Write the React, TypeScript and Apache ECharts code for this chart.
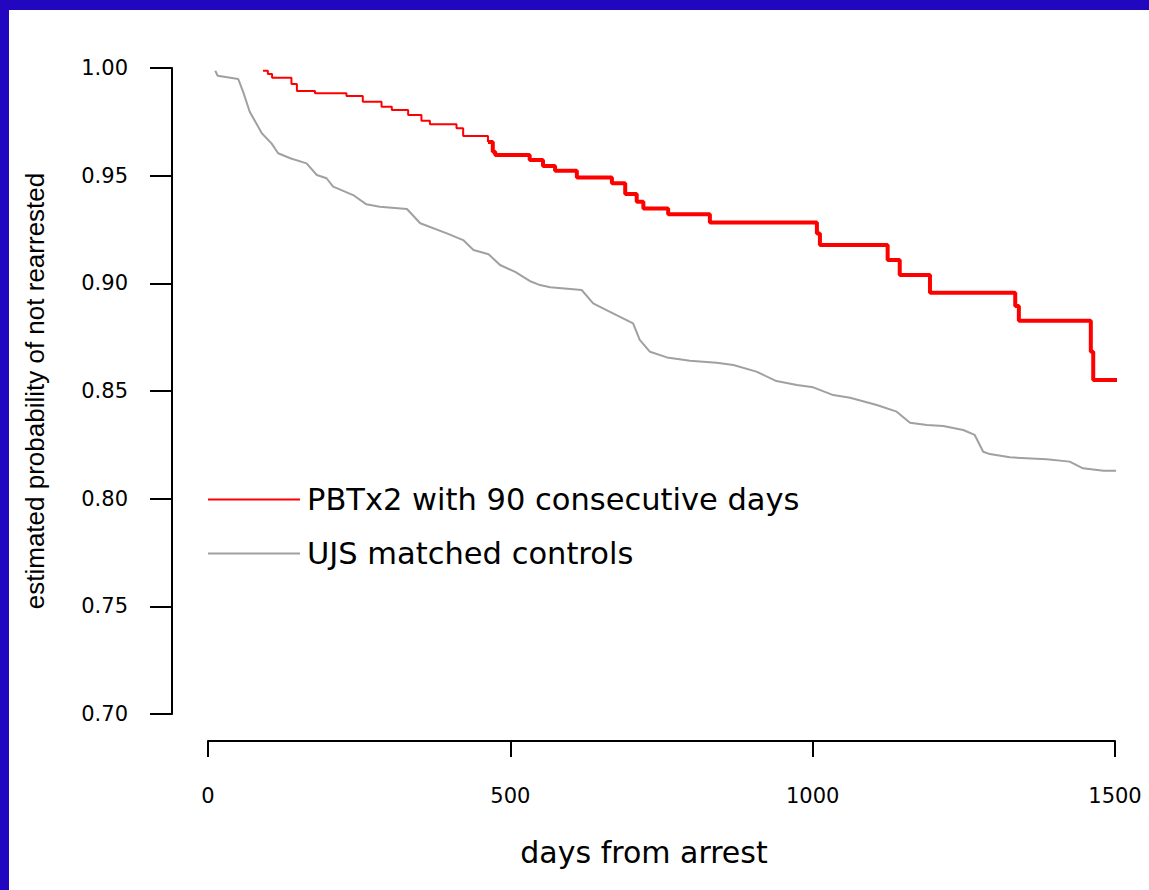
import React, { useEffect, useRef } from "react";
import * as echarts from "echarts";

// ---- data ----
const redName = "PBTx2 with 90 consecutive days";
const grayName = "UJS matched controls";

// Kaplan-Meier style step curve (day of drop, survival after drop)
const redDays = [91, 99, 106, 138, 147, 177, 229, 256, 287, 304, 331, 353, 367, 411, 422, 463, 471, 475, 532, 554, 574, 610, 668, 690, 709, 720, 761, 830, 1007, 1012, 1124, 1144, 1194, 1335, 1341, 1460, 1464, 1508];
const redSurv = [0.9987, 0.9972, 0.9955, 0.9926, 0.9893, 0.9883, 0.987, 0.9843, 0.982, 0.9805, 0.9782, 0.9755, 0.9739, 0.972, 0.9684, 0.9656, 0.9611, 0.9596, 0.9573, 0.9545, 0.9523, 0.9492, 0.9465, 0.9415, 0.9379, 0.9348, 0.9321, 0.9282, 0.9232, 0.9178, 0.9108, 0.9039, 0.8956, 0.8895, 0.8826, 0.8682, 0.8551, 0.8551];

const grayDays = [12, 16, 50, 58, 69, 89, 105, 116, 136, 163, 180, 196, 207, 240, 262, 284, 329, 351, 395, 422, 439, 464, 483, 508, 532, 549, 566, 618, 637, 659, 703, 714, 731, 759, 797, 841, 869, 907, 940, 974, 1001, 1034, 1062, 1106, 1139, 1161, 1189, 1216, 1249, 1268, 1282, 1293, 1326, 1387, 1425, 1447, 1481, 1508];
const graySurv = [0.9987, 0.9964, 0.9949, 0.989, 0.9797, 0.9697, 0.965, 0.9604, 0.9581, 0.9557, 0.9503, 0.9488, 0.9449, 0.941, 0.9367, 0.9356, 0.9345, 0.9279, 0.9232, 0.9201, 0.9155, 0.9135, 0.9085, 0.9053, 0.9011, 0.8992, 0.8982, 0.8969, 0.8907, 0.8876, 0.8814, 0.8737, 0.8682, 0.8656, 0.8641, 0.8631, 0.8621, 0.859, 0.8546, 0.8528, 0.8517, 0.8481, 0.8469, 0.8435, 0.8404, 0.8353, 0.8342, 0.8337, 0.8319, 0.8296, 0.8218, 0.8207, 0.8192, 0.8183, 0.8172, 0.8141, 0.813, 0.813];

const xMin = 0;
const xMax = 1500;
const xStep = 500;
const yMin = 0.7;
const yMax = 1.0;
const yStep = 0.05;

const xTitle = "days from arrest";
const yTitle = "estimated probability of not rearrested";

// the red curve is drawn thinner before this day, as in the picture
const THICK_FROM_DAY = 463;

const RED = "#ff0000";
const GRAY = "#a0a0a0";
const FRAME = "#2108c0";

export default function App() {
  const ref = useRef<HTMLDivElement>(null);

  useEffect(() => {
    if (!ref.current) return;
    const chart = echarts.init(ref.current, null, { renderer: "svg" });

    const redPairs = redDays.map((d, i) => [d, redSurv[i]]);
    const redThin = redPairs.filter((p) => p[0] <= THICK_FROM_DAY);
    const redThick = redPairs.filter((p) => p[0] >= THICK_FROM_DAY);
    const grayPairs = grayDays.map((d, i) => [d, graySurv[i]]);

    const tickFont = { fontFamily: "DejaVu Sans", fontSize: 21, color: "#000" };

    chart.setOption({
      animation: false,
      backgroundColor: "#ffffff",
      grid: { left: 208, top: 68, width: 907, height: 646, containLabel: false },
      legend: {
        orient: "vertical",
        left: 208,
        top: 484,
        padding: 0,
        itemGap: 23,
        itemWidth: 92,
        itemHeight: 2,
        icon: "rect",
        selectedMode: false,
        data: [redName, grayName],
        textStyle: { fontFamily: "DejaVu Sans", fontSize: 30.5, color: "#000", padding: [0, 0, 0, 2] },
      },
      xAxis: {
        type: "value",
        min: xMin,
        max: xMax,
        interval: xStep,
        offset: 27,
        splitLine: { show: false },
        axisLine: { show: true, onZero: false, lineStyle: { color: "#000", width: 2 } },
        axisTick: { show: true, length: 16, lineStyle: { color: "#000", width: 2 } },
        axisLabel: { ...tickFont, margin: 44, formatter: (v: number) => String(v) },
        name: xTitle,
        nameLocation: "middle",
        nameGap: 96,
        nameMoveOverlap: false,
        nameTextStyle: { fontFamily: "DejaVu Sans", fontSize: 30, color: "#000", padding: [0, 35, 0, 0] },
      },
      yAxis: {
        type: "value",
        min: yMin,
        max: yMax,
        interval: yStep,
        offset: 36,
        splitLine: { show: false },
        axisLine: { show: true, onZero: false, lineStyle: { color: "#000", width: 2 } },
        axisTick: { show: true, length: 22, lineStyle: { color: "#000", width: 2 } },
        axisLabel: { ...tickFont, margin: 44, formatter: (v: number) => v.toFixed(2) },
        name: yTitle,
        nameLocation: "middle",
        nameGap: 124,
        nameMoveOverlap: false,
        nameTextStyle: { fontFamily: "Liberation Sans", fontSize: 26, color: "#000" },
      },
      series: [
        {
          name: redName,
          type: "line",
          step: "end",
          data: redThin,
          symbol: "none",
          clip: false,
          silent: true,
          color: RED,
          lineStyle: { color: RED, width: 2 },
          z: 3,
        },
        {
          name: grayName,
          type: "line",
          data: grayPairs,
          symbol: "none",
          clip: false,
          silent: true,
          color: GRAY,
          lineStyle: { color: GRAY, width: 2 },
          z: 2,
        },
        {
          name: redName,
          type: "line",
          step: "end",
          data: redThick,
          symbol: "none",
          clip: false,
          silent: true,
          color: RED,
          lineStyle: { color: RED, width: 4 },
          z: 3,
        },
      ],
    });

    return () => chart.dispose();
  }, []);

  return (
    <div style={{ position: "fixed", left: 0, top: 0, width: 1149, height: 890, background: "#fff" }}>
      <div ref={ref} style={{ position: "absolute", left: 0, top: 0, width: 1149, height: 890 }} />
      <div style={{ position: "absolute", left: 0, top: 0, width: 1149, height: 10, background: FRAME, pointerEvents: "none" }} />
      <div style={{ position: "absolute", left: 0, top: 0, width: 9, height: 890, background: FRAME, pointerEvents: "none" }} />
    </div>
  );
}
